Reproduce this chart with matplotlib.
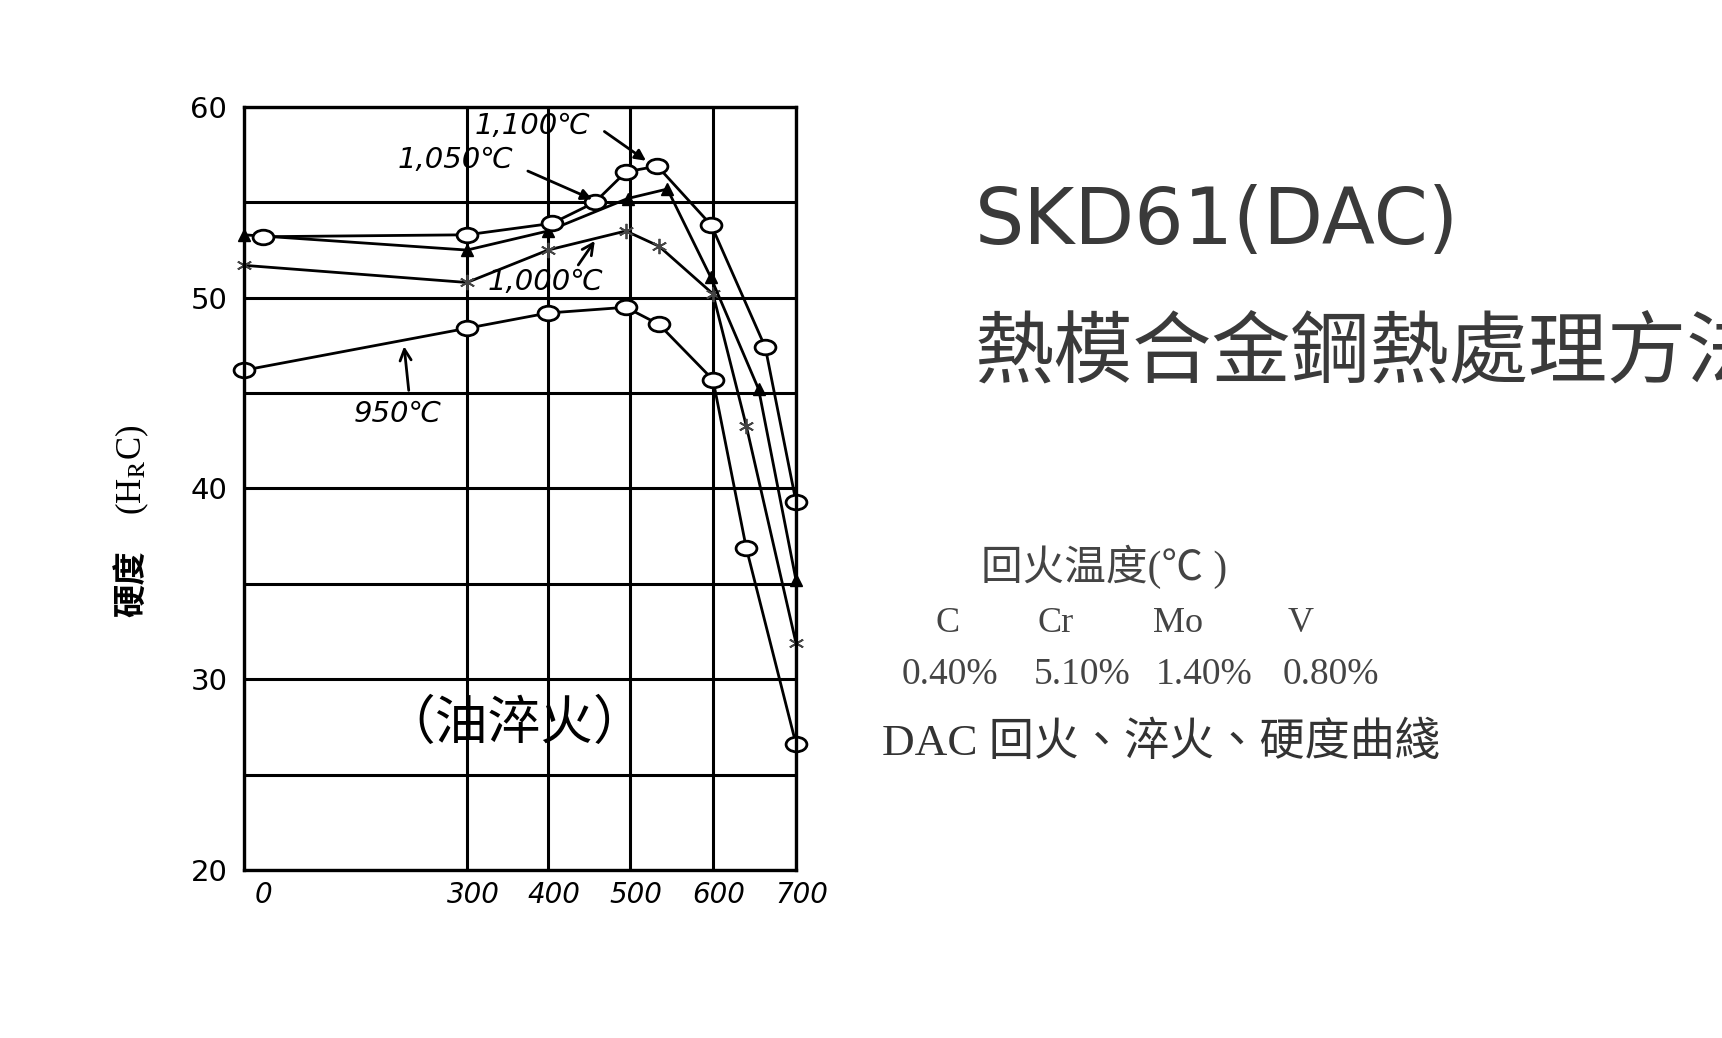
import numpy as np
import matplotlib
matplotlib.use("Agg")
import matplotlib.pyplot as plt
from matplotlib.path import Path
from matplotlib.transforms import Affine2D, ScaledTranslation

# hardness (HRC) vs tempering temperature, one series per quench temperature
temper_950 = [0, 300, 400, 495, 535, 600, 640, 700]
hrc_950 = [46.2, 48.4, 49.2, 49.5, 48.6, 45.7, 36.9, 26.6]
temper_1000 = [0, 300, 400, 495, 535, 600, 640, 700]
hrc_1000 = [51.7, 50.8, 52.5, 53.5, 52.7, 50.2, 43.3, 31.9]
temper_1050 = [0, 300, 400, 497, 545, 597, 655, 700]
hrc_1050 = [53.3, 52.5, 53.5, 55.2, 55.7, 51.1, 45.2, 35.2]
temper_1100 = [25, 300, 405, 457, 495, 533, 598, 663, 700]
hrc_1100 = [53.2, 53.3, 53.9, 55.0, 56.6, 56.9, 53.8, 47.4, 39.3]

x_ticks = [0, 300, 400, 500, 600, 700]
x_tick_labels = ['0', '300', '400', '500', '600', '700']
y_major = [20, 30, 40, 50, 60]
y_minor = [25, 35, 45, 55]

elements = ['C', 'Cr', 'Mo', 'V']
contents = ['0.40%', '5.10%', '1.40%', '0.80%']

W, H = 1722, 1038

# the printed temperature axis is not linear: 0-300 is squeezed
axis_knots = [-100, 0, 300, 400, 500, 600, 700, 800]
paper_knots = [-74, 0, 223, 304, 386, 469, 552, 635]


def fwd(x):
    return np.interp(x, axis_knots, paper_knots)


def inv(p):
    return np.interp(p, paper_knots, axis_knots)


plt.rcParams['mathtext.fontset'] = 'stix'
cjk = ['Noto Sans CJK TC', 'DejaVu Sans']
serif_cjk = ['Liberation Serif', 'Noto Sans CJK TC']
lab_font = ['DejaVu Sans', 'Noto Sans CJK TC']

fig = plt.figure(figsize=(W / 100, H / 100), dpi=100)
ax = fig.add_axes([244 / W, 1 - 870 / H, (796 - 244) / W, (870 - 107) / H])
ax.set_xscale('function', functions=(fwd, inv))
ax.set_xlim(0, 700)
ax.set_ylim(20, 60)

# grid
ax.set_xticks(x_ticks, x_tick_labels)
ax.set_yticks(y_major)
ax.set_yticks(y_minor, minor=True)
ax.grid(axis='x', which='major', color='black', lw=2.2)
ax.grid(axis='y', which='both', color='black', lw=2.2)
ax.set_axisbelow(True)
for sp in ax.spines.values():
    sp.set_linewidth(2.4)
ax.tick_params(axis='both', which='both', length=0)
ax.tick_params(axis='y', pad=12, labelsize=21)
ax.tick_params(axis='x', pad=8, labelsize=20)
for i, tick in enumerate(ax.xaxis.get_major_ticks()):
    shift = 0.19 if i == 0 else 0.06
    tick.label1.set_fontstyle('italic')
    tick.label1.set_transform(tick.label1.get_transform()
                              + ScaledTranslation(shift, 0, fig.dpi_scale_trans))

# series
ellipse = Path.unit_circle().transformed(Affine2D().scale(1.0, 0.7))
circ = dict(marker=ellipse, ms=15, mfc='white', mec='black', mew=2.0)
ax.plot(temper_950, hrc_950, color='black', lw=2.0, clip_on=False, **circ)
ax.plot(temper_1000, hrc_1000, color='black', lw=2.0, clip_on=False,
        marker=(6, 2, 0), ms=11, mec='#444444', mew=1.3)
ax.plot(temper_1050, hrc_1050, color='black', lw=2.0, clip_on=False,
        marker='^', ms=8)
ax.plot(temper_1100, hrc_1100, color='black', lw=2.0, clip_on=False, **circ)

# labels with arrows
txt = dict(fontsize=21, style='italic', family=lab_font, va='center', ha='left')
ax.text(309, 59.0, '1,100℃', **txt)
ax.text(207, 57.2, '1,050℃', **txt)
ax.text(325, 50.8, '1,000℃', **txt)
ax.text(148, 43.9, '950℃', **txt)
filled = dict(arrowstyle='-|>', color='black', lw=2.0, mutation_scale=16)
opened = dict(arrowstyle='->', color='black', lw=2.0, mutation_scale=20)
ax.annotate('', xy=(522, 57.1), xytext=(466, 58.8), arrowprops=filled)
ax.annotate('', xy=(457, 55.1), xytext=(372, 56.7), arrowprops=filled)
ax.annotate('', xy=(459, 53.1), xytext=(435, 51.6), arrowprops=opened)
ax.annotate('', xy=(215, 47.6), xytext=(222, 45.0), arrowprops=opened)

ax.text(358, 27.7, '（油淬火）', fontsize=38, family=cjk,
        ha='center', va='center')

# y label
fig.text(132 / W, 1 - 584 / H, '硬度', rotation=90, fontsize=24,
         family=cjk, weight='bold', ha='center', va='center')
fig.text(132 / W, 1 - 470 / H, r'(H$_\mathrm{R}$C)', rotation=90, fontsize=25,
         family='Liberation Serif', ha='center', va='center')

# side text
grey = '#3a3a3a'
fig.text(975 / W, 1 - 244 / H, 'SKD61(DAC)', fontsize=56,
         family='DejaVu Sans', color=grey, va='baseline')
fig.text(975 / W, 1 - 354 / H, '熱模合金鋼熱處理方法', fontsize=57,
         family=cjk, color=grey, va='center')
fig.text(981 / W, 1 - 567 / H, '回火温度(℃ )', fontsize=30,
         family=serif_cjk, color='#444444', va='center')
for name, xc in zip(elements, [948, 1056, 1178, 1301]):
    fig.text(xc / W, 1 - 624 / H, name, fontsize=26, family='Liberation Serif',
             color='#444444', ha='center', va='center')
for val, xc in zip(contents, [950, 1082, 1204, 1331]):
    fig.text(xc / W, 1 - 675 / H, val, fontsize=27, family='Liberation Serif',
             color='#444444', ha='center', va='center')
fig.text(882 / W, 1 - 743 / H, 'DAC 回火、淬火、硬度曲綫', fontsize=32.5,
         family=serif_cjk, color='#333333', va='center')

fig.savefig('out.png', dpi=100, facecolor='white')
